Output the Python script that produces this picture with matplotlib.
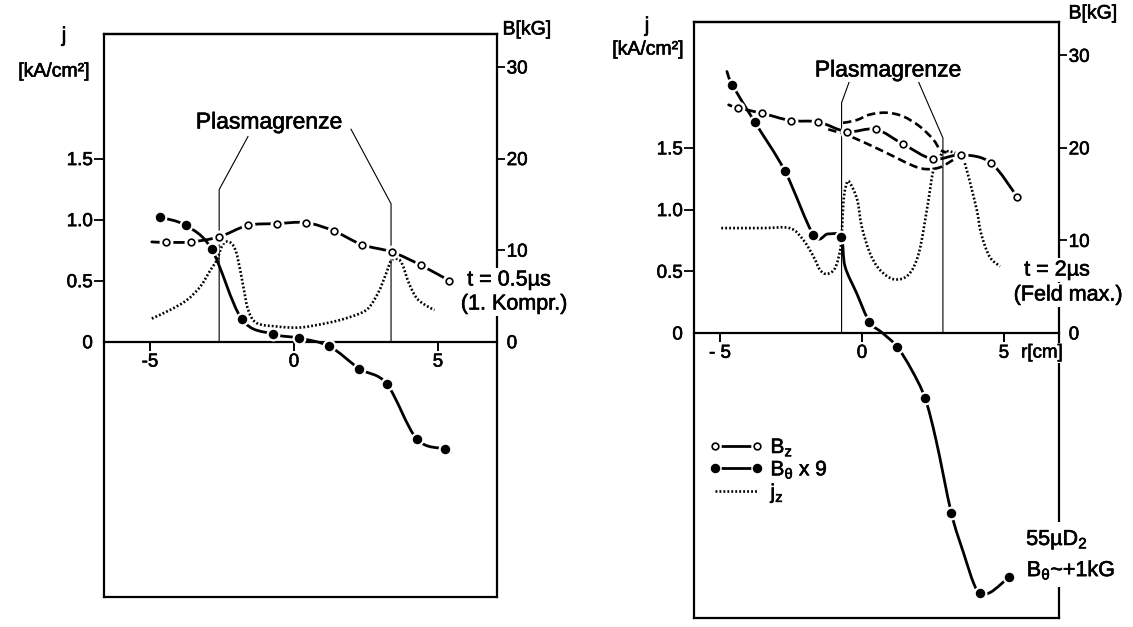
import numpy as np
import matplotlib
matplotlib.use("Agg")
import matplotlib.pyplot as plt
import matplotlib.patheffects as pe
from matplotlib.path import Path
from matplotlib.patches import PathPatch
from matplotlib.lines import Line2D
from matplotlib.text import Text
from matplotlib.legend_handler import HandlerTuple

W, H = 1133, 627
FONT = "Liberation Sans"
plt.rcParams["font.family"] = [FONT, "DejaVu Sans"]
plt.rcParams["mathtext.fontset"] = "custom"
plt.rcParams["mathtext.rm"] = FONT
plt.rcParams["mathtext.it"] = FONT + ":italic"
plt.rcParams["mathtext.bf"] = FONT + ":bold"

# 1.5 kA/cm^2 on the j scale sits level with 20 kG on the B scale
J_TO_KG = 40.0 / 3.0

# ---------------- left panel: t = 0.5 us (1st compression) ----------------
bz_a_r = [-4.94, -4.44, -3.59, -2.60, -1.61, -0.59, 0.42, 1.38, 2.36, 3.40, 4.41, 5.40]
bz_a_B = [10.9, 10.85, 10.9, 11.45, 12.7, 12.9, 13.0, 12.1, 10.6, 9.8, 8.35, 6.65]
bz_a_mark = [0, 1, 1, 1, 1, 1, 1, 1, 1, 1, 1, 1]

bt_a_r = [-4.65, -3.76, -2.86, -1.82, -0.74, 0.18, 1.23, 2.27, 3.22, 4.26, 5.24, 5.44]
bt_a_B = [13.6, 12.7, 10.1, 2.5, 0.85, 0.4, -0.5, -2.95, -4.6, -10.6, -11.7, -12.0]
bt_a_mark = [1, 1, 1, 1, 1, 1, 1, 1, 1, 1, 1, 0]

jz_a_r = [-4.94, -4.31, -3.73, -3.26, -2.92, -2.68, -2.51, -2.34, -2.13, -1.97, -1.76,
          -1.59, -1.30, -0.60, 0.21, 1.14, 1.83, 2.52, 2.92, 3.20, 3.36, 3.55, 3.74,
          3.99, 4.25, 4.56, 4.88]
jz_a_j = [0.19, 0.26, 0.34, 0.45, 0.58, 0.67, 0.78, 0.82, 0.795, 0.70, 0.45,
          0.26, 0.153, 0.125, 0.117, 0.153, 0.194, 0.262, 0.40, 0.56, 0.66, 0.68, 0.645,
          0.48, 0.36, 0.30, 0.26]

edge_a_r = [-2.6, 3.37]

# ---------------- right panel: t = 2 us (field maximum) ----------------
bz_b_r = [-4.70, -4.36, -3.53, -2.51, -1.54, -0.54, 0.48, 1.45, 2.49, 3.49, 4.53, 5.47]
bz_b_B = [24.65, 24.3, 23.75, 22.95, 22.8, 21.75, 22.0, 20.4, 18.8, 19.25, 18.4, 14.7]
bz_b_mark = [0, 1, 1, 1, 1, 1, 1, 1, 1, 1, 1, 1]

bt_b_r = [-4.76, -4.57, -3.77, -2.71, -1.71, -1.20, -0.74, -0.60, -0.19, 0.26, 0.72,
          1.24, 1.75, 2.22, 2.61, 3.15, 3.58, 3.94, 4.17, 4.54, 5.17]
bt_b_B = [28.25, 26.8, 22.75, 17.45, 10.6, 10.7, 10.4, 7.2, 4.3, 1.2, 0.0,
          -1.5, -4.0, -7.05, -11.6, -19.5, -23.8, -27.1, -28.1, -28.0, -26.4]
bt_b_mark = [0, 1, 1, 1, 1, 0, 1, 0, 0, 1, 0,
             1, 0, 1, 0, 1, 0, 0, 1, 0, 1]

dash1_r = [-0.67, -0.19, 0.28, 0.87, 1.45, 2.04, 2.51, 2.75, 2.98]
dash1_B = [22.7, 23.0, 23.6, 23.8, 23.4, 22.3, 20.9, 19.8, 19.5]
dash2_r = [-1.19, -0.54, 0.28, 1.10, 1.81, 2.28, 2.75, 3.21, 3.51]
dash2_B = [22.0, 21.4, 20.3, 19.1, 18.05, 17.7, 17.9, 18.7, 19.25]

jz_b_r = [-4.96, -3.50, -2.54, -2.07, -1.71, -1.48, -1.24, -0.95, -0.77, -0.71, -0.66,
          -0.58, -0.46, -0.17, -0.01, 0.28, 0.63, 1.12, 1.63, 2.00, 2.30, 2.49, 2.65,
          2.92, 3.27, 3.51, 3.69, 4.04, 4.19, 4.49, 4.86]
jz_b_j = [0.85, 0.85, 0.849, 0.754, 0.619, 0.511, 0.478, 0.525, 0.673, 0.809, 1.05,
          1.18, 1.227, 1.08, 0.862, 0.646, 0.511, 0.435, 0.47, 0.646, 1.02, 1.295, 1.40,
          1.47, 1.46, 1.43, 1.32, 1.0, 0.81, 0.62, 0.54]

edge_b_r = [-0.72, 2.85]

j_ticks = [0, 0.5, 1.0, 1.5]
j_labels = ["0", "0.5", "1.0", "1.5"]
b_ticks = [0, 10, 20, 30]
b_labels = ["0", "10", "20", "30"]

fig = plt.figure(figsize=(W / 100, H / 100), dpi=100, facecolor="white")


def fx(x):
    return x / W


def fy(y):
    return 1 - y / H


def smooth_path(xs, ys):
    pts = np.column_stack([xs, ys]).astype(float)
    n = len(pts)
    verts = [pts[0]]
    codes = [Path.MOVETO]
    for i in range(n - 1):
        p0 = pts[i - 1] if i > 0 else pts[i]
        p1, p2 = pts[i], pts[i + 1]
        p3 = pts[i + 2] if i + 2 < n else pts[i + 1]
        verts += [p1 + (p2 - p0) / 6.0, p2 - (p3 - p1) / 6.0, p2]
        codes += [Path.CURVE4] * 3
    return Path(verts, codes)


def curve(ax, xs, ys, **kw):
    patch = PathPatch(smooth_path(xs, ys), fill=False, **kw)
    ax.add_patch(patch)
    return patch


def marked_curve(ax, xs, ys, mark, filled):
    curve(ax, xs, ys, lw=2.0, ec="black", zorder=2, capstyle="round")
    xm = [x for x, m in zip(xs, mark) if m]
    ym = [y for y, m in zip(ys, mark) if m]
    ax.plot(xm, ym, ls="none", marker="o", ms=9, mfc="white", mec="white", zorder=2.5)
    if filled:
        ax.plot(xm, ym, ls="none", marker="o", ms=5.8, mfc="black", mec="black", zorder=3)
    else:
        ax.plot(xm, ym, ls="none", marker="o", ms=4.8, mfc="white", mec="black",
                mew=1.2, zorder=3)


def panel(x0, x1, y0, y1, rlim, jlim, xlabels):
    ax = fig.add_axes([fx(x0), fy(y1), fx(x1 - x0), (y1 - y0) / H])
    ax.set_xlim(rlim)
    ax.set_ylim(jlim)
    ax.patch.set_alpha(0)
    axb = ax.twinx()
    axb.set_ylim(jlim[0] * J_TO_KG, jlim[1] * J_TO_KG)

    for s in ("left", "top"):
        ax.spines[s].set_linewidth(1.6)
    ax.spines["right"].set_visible(False)
    ax.spines["bottom"].set_position(("data", 0))
    ax.spines["bottom"].set_linewidth(1.6)
    for s in ("right", "top", "bottom"):
        axb.spines[s].set_linewidth(1.6)
    axb.spines["left"].set_visible(False)

    ax.set_xticks([-5, 0, 5])
    ax.set_xticklabels(xlabels)
    ax.tick_params(axis="x", direction="out", length=6.5, width=1.4, pad=2, labelsize=13.5)
    ax.set_yticks(j_ticks)
    ax.set_yticklabels(j_labels)
    ax.tick_params(axis="y", direction="out", length=7, width=1.3, pad=1, labelsize=13.5)
    ax.yaxis.get_major_ticks()[0].tick1line.set_visible(False)

    axb.set_yticks(b_ticks)
    axb.set_yticklabels(b_labels)
    axb.tick_params(axis="y", direction="out", length=6, width=1.3, pad=1, labelsize=13.5)
    axb.yaxis.get_major_ticks()[0].tick2line.set_visible(False)
    return ax, axb


def boundaries(ax, edges, knees, tops):
    for r, kj, (tr, tj) in zip(edges, knees, tops):
        ax.plot([tr, r, r], [tj, kj, 0], color="black", lw=0.8, zorder=1)


# ---------------- left panel ----------------
axA, axAb = panel(104, 497, 34, 597, (-6.6, 7.05), (-2.09, 2.52), ["-5", "0", "5"])
boundaries(axA, edge_a_r, [1.246, 1.13], [(-1.6, 1.68), (1.98, 1.74)])
curve(axA, jz_a_r, jz_a_j, lw=1.9, ec="black", linestyle=(0, (0.7, 0.8)), zorder=1.5)
marked_curve(axAb, bz_a_r, bz_a_B, bz_a_mark, filled=False)
marked_curve(axAb, bt_a_r, bt_a_B, bt_a_mark, filled=True)

fig.text(fx(64), fy(36), "j", fontsize=15, ha="center", va="center")
fig.text(fx(54), fy(72), "[kA/cm²]", fontsize=14, ha="center", va="center")
fig.text(fx(527), fy(30), "B[kG]", fontsize=14, ha="center", va="center")
fig.text(fx(269), fy(122), "Plasmagrenze", fontsize=16.5, ha="center", va="center")
fig.text(fx(509), fy(280), "t = 0.5µs", fontsize=15.5, ha="center", va="center",
         bbox=dict(fc="white", ec="none", pad=1), zorder=5)
fig.text(fx(514), fy(304), "(1. Kompr.)", fontsize=15.5, ha="center", va="center",
         bbox=dict(fc="white", ec="none", pad=1), zorder=5)

# ---------------- right panel ----------------
axB, axBb = panel(694, 1059, 22, 618, (-5.92, 6.94), (-2.31, 2.52), ["- 5", "0", "5"])
boundaries(axB, edge_b_r, [1.865, 1.58], [(-0.46, 2.03), (2.0, 2.03)])
curve(axB, jz_b_r, jz_b_j, lw=1.9, ec="black", linestyle=(0, (0.7, 0.8)), zorder=1.5)
curve(axBb, dash1_r, dash1_B, lw=1.9, ec="black", linestyle=(0, (3.2, 1.6)), zorder=2)
curve(axBb, dash2_r, dash2_B, lw=1.9, ec="black", linestyle=(0, (3.2, 1.6)), zorder=2)
marked_curve(axBb, bz_b_r, bz_b_B, bz_b_mark, filled=False)
marked_curve(axBb, bt_b_r, bt_b_B, bt_b_mark, filled=True)

fig.text(fx(647), fy(26), "j", fontsize=15, ha="center", va="center")
fig.text(fx(648), fy(50), "[kA/cm²]", fontsize=14, ha="center", va="center")
fig.text(fx(1093), fy(14), "B[kG]", fontsize=14, ha="center", va="center")
fig.text(fx(888), fy(70), "Plasmagrenze", fontsize=16.5, ha="center", va="center")
fig.text(fx(1042), fy(353), "r[cm]", fontsize=13.5, ha="center", va="center",
         bbox=dict(fc="white", ec="none", pad=1), zorder=5)
fig.text(fx(1057), fy(270), "t = 2µs", fontsize=15.5, ha="center", va="center",
         bbox=dict(fc="white", ec="none", pad=1), zorder=5)
fig.text(fx(1068), fy(295), "(Feld max.)", fontsize=15.5, ha="center", va="center",
         bbox=dict(fc="white", ec="none", pad=1), zorder=5)
fig.text(fx(1057), fy(540), r"55µD$_\mathrm{2}$", fontsize=15.5, ha="center", va="center",
         bbox=dict(fc="white", ec="none", pad=4), zorder=5)
fig.text(fx(1071), fy(570), r"B$_\mathrm{θ}$~+1kG", fontsize=15.5, ha="center", va="center",
         bbox=dict(fc="white", ec="none", pad=4), zorder=5)


# legend: line with markers at both ends, white halo separating marker and line
def leg_handle(filled):
    line = Line2D([], [], color="black", lw=2.0)
    halo = Line2D([], [], ls="none", marker="o", ms=8, mfc="white", mec="white")
    if filled:
        mk = Line2D([], [], ls="none", marker="o", ms=5.8, mfc="black", mec="black")
    else:
        mk = Line2D([], [], ls="none", marker="o", ms=4.8, mfc="white", mec="black", mew=1.2)
    return (line, halo, mk)


handles = [leg_handle(False), leg_handle(True),
           Line2D([], [], color="black", lw=1.9, linestyle=(0, (0.7, 0.8)))]
labels = [r"B$_\mathrm{z}$", r"B$_\mathrm{θ}$ x 9", r"j$_\mathrm{z}$"]
axBb.legend(handles, labels, loc="upper left", bbox_to_anchor=(fx(709), fy(437)),
            bbox_transform=fig.transFigure, frameon=False, numpoints=2,
            handlelength=2.6, handletextpad=0.35, labelspacing=0.05, fontsize=15,
            borderpad=0, borderaxespad=0,
            handler_map={tuple: HandlerTuple(ndivide=1, pad=0)})

# slightly heavier lettering throughout
for t in fig.findobj(Text):
    t.set_path_effects([pe.withStroke(linewidth=0.45, foreground="black")])

fig.savefig("out.png", dpi=100, facecolor="white")
